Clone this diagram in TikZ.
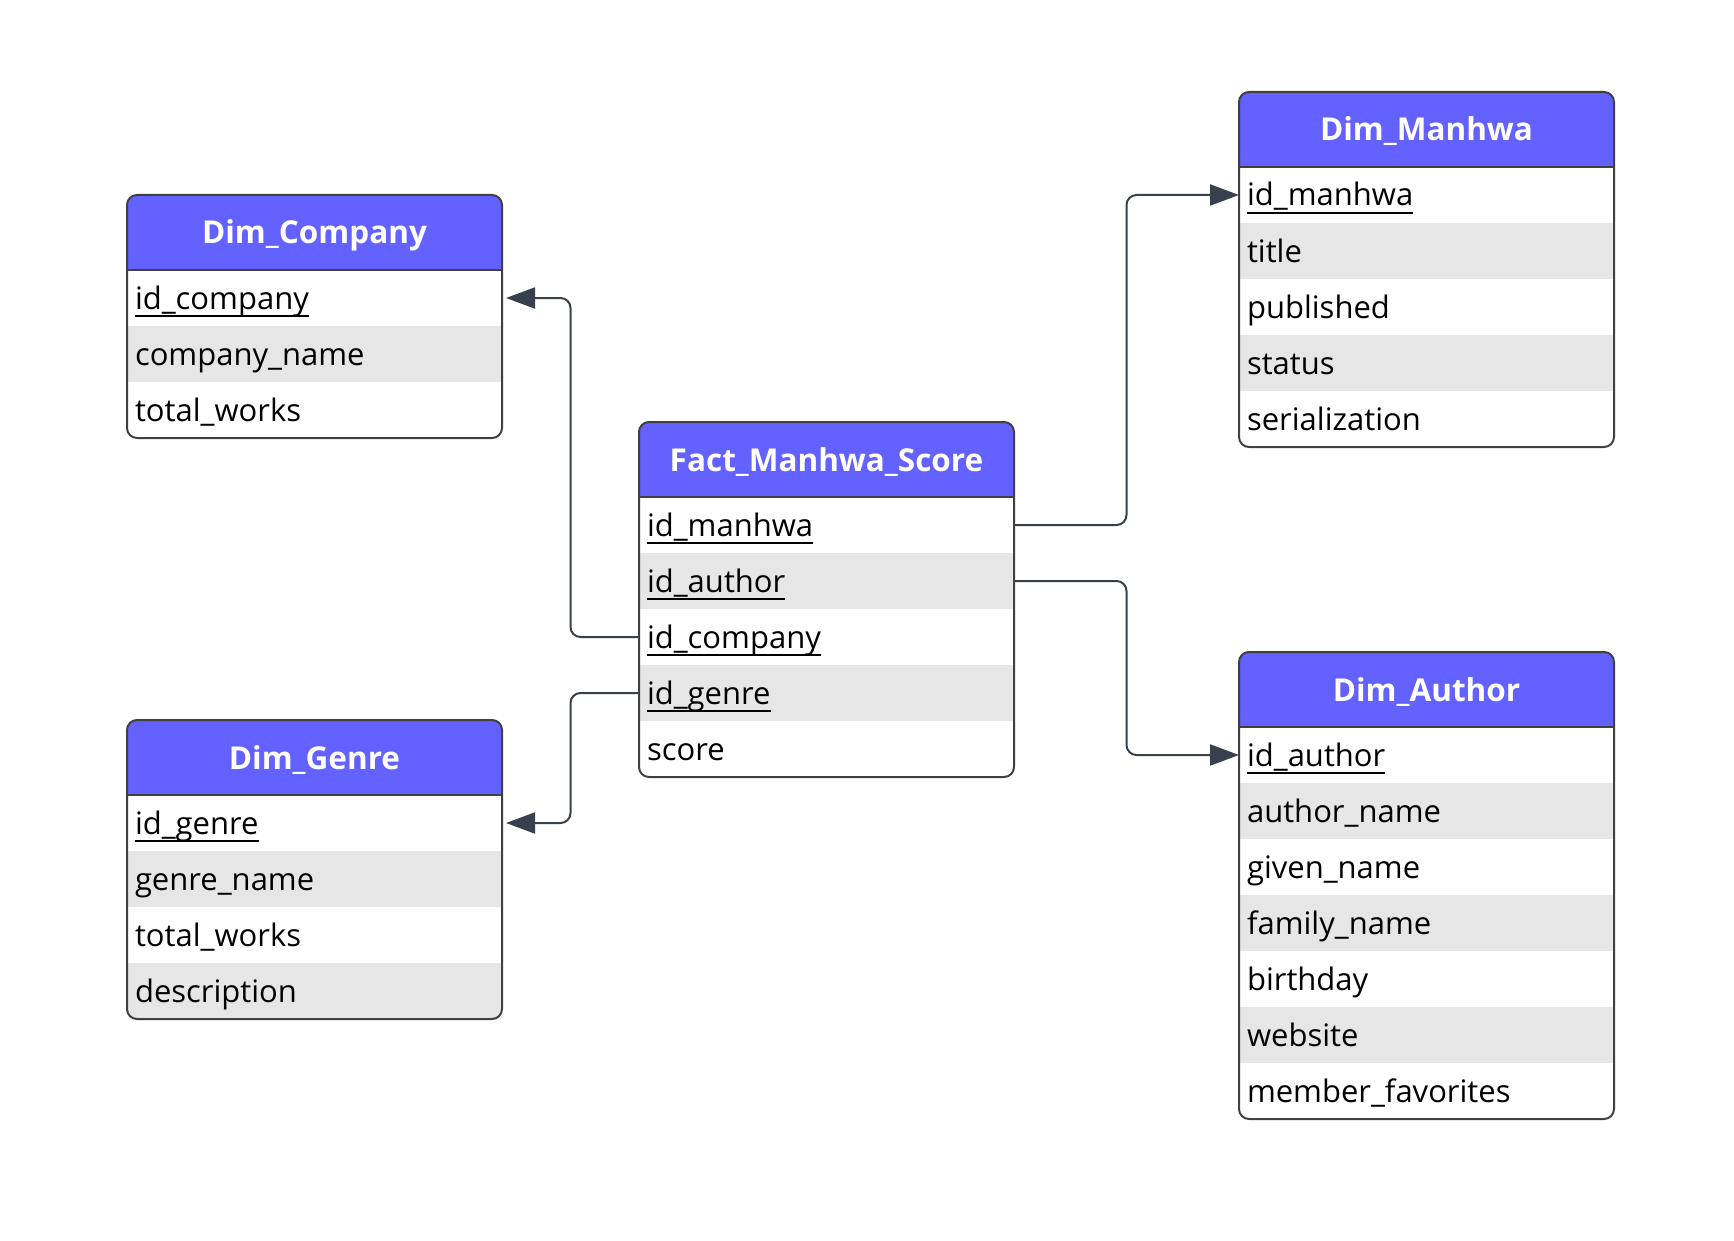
\documentclass[tikz,border=0pt]{standalone}
\usepackage{fontspec}
\setmainfont{Open Sans}
\usetikzlibrary{arrows.meta}
\usetikzlibrary{calc}
\usetikzlibrary{positioning}
\definecolor{kopfblau}{RGB}{99,97,255}
\definecolor{zeilegrau}{RGB}{230,230,230}
\definecolor{randgrau}{RGB}{64,64,64}
\definecolor{pfeilgrau}{RGB}{56,63,77}
% Schluesselfeld unterstrichen
\newcommand{\pk}[1]{\setbox0\hbox{#1}\rlap{\rule[-8.2pt]{\wd0}{2.4pt}}\box0}
% Rahmen um eine Tabelle (Kopf, letzte Zeile)
\newcommand{\tabrahmen}[2]{%
  \fill[white,even odd rule] (#1.north west) rectangle (#2.south east)
     [rounded corners=10pt] (#1.north west) rectangle (#2.south east);
  \draw[rahmen] (#1.north west) rectangle (#2.south east);
  \draw[draw=randgrau,line width=2pt] (#1.south west) -- (#1.south east);}
\tikzset{
    %Define style for table heads
    kopf/.style={
           rectangle,
           fill=kopfblau, text=white,
           font=\fontsize{31.5pt}{36pt}\selectfont\bfseries,
           minimum width=375pt, minimum height=75pt,
           text width=359pt, align=center,
           inner xsep=8pt, inner ysep=0pt,
           text height=31pt, text depth=8pt,
           outer sep=0pt},
    %Define style for table rows
    feld/.style={
           rectangle,
           fill=white, text=black,
           font=\fontsize{31pt}{36pt}\selectfont,
           minimum width=375pt, minimum height=56pt,
           text width=359pt, align=left,
           inner xsep=8pt, inner ysep=0pt,
           text height=30pt, text depth=8pt,
           outer sep=0pt},
    feldgrau/.style={feld, fill=zeilegrau},
    rahmen/.style={draw=randgrau, line width=2pt, rounded corners=10pt},
    % Define arrow style
    rel/.style={
           draw=pfeilgrau,
           line width=2pt,
           rounded corners=10pt,
           -{Triangle[length=29pt,width=21pt]}},
}
\begin{document}
\begin{tikzpicture}[x=1pt,y=-1pt]
\fill[white] (0,0) rectangle (1734,1241);
\useasboundingbox (0,0) rectangle (1734,1241);

% Faktentabelle Mitte
\node[kopf, anchor=north west] (Fact) at (639,422) {Fact\_Manhwa\_Score};
\node[feld, below=0pt of Fact] (factManhwa) {\pk{id\_manhwa}};
\node[feldgrau, below=0pt of factManhwa] (factAuthor) {\pk{id\_author}};
\node[feld, below=0pt of factAuthor] (factCompany) {\pk{id\_company}};
\node[feldgrau, below=0pt of factCompany] (factGenre) {\pk{id\_genre}};
\node[feld, below=0pt of factGenre] (factScore) {score};
\tabrahmen{Fact}{factScore}

% Oben links
\node[kopf, anchor=north west] (Company) at (127,195) {Dim\_Company};
\node[feld, below=0pt of Company] (companyId) {\pk{id\_company}};
\node[feldgrau, below=0pt of companyId] (companyName) {company\_name};
\node[feld, below=0pt of companyName] (companyWorks) {total\_works};
\tabrahmen{Company}{companyWorks}

% Unten links
\node[kopf, anchor=north west] (Genre) at (127,720) {Dim\_Genre};
\node[feld, below=0pt of Genre] (genreId) {\pk{id\_genre}};
\node[feldgrau, below=0pt of genreId] (genreName) {genre\_name};
\node[feld, below=0pt of genreName] (genreWorks) {total\_works};
\node[feldgrau, below=0pt of genreWorks] (genreDesc) {description};
\tabrahmen{Genre}{genreDesc}

% Oben rechts
\node[kopf, anchor=north west] (Manhwa) at (1239,92) {Dim\_Manhwa};
\node[feld, below=0pt of Manhwa] (manhwaId) {\pk{id\_manhwa}};
\node[feldgrau, below=0pt of manhwaId] (manhwaTitle) {title};
\node[feld, below=0pt of manhwaTitle] (manhwaPub) {published};
\node[feldgrau, below=0pt of manhwaPub] (manhwaStatus) {status};
\node[feld, below=0pt of manhwaStatus] (manhwaSerial) {serialization};
\tabrahmen{Manhwa}{manhwaSerial}

% Unten rechts
\node[kopf, anchor=north west] (Author) at (1239,652) {Dim\_Author};
\node[feld, below=0pt of Author] (authorId) {\pk{id\_author}};
\node[feldgrau, below=0pt of authorId] (authorName) {author\_name};
\node[feld, below=0pt of authorName] (authorGiven) {given\_name};
\node[feldgrau, below=0pt of authorGiven] (authorFamily) {family\_name};
\node[feld, below=0pt of authorFamily] (authorBirth) {birthday};
\node[feldgrau, below=0pt of authorBirth] (authorWeb) {website};
\node[feld, below=0pt of authorWeb] (authorFav) {member\_favorites};
\tabrahmen{Author}{authorFav}

% Pfeile
\draw[rel, shorten >=4pt] (factCompany.west) -| ($(factCompany.west)!.5!(companyId.east)$) |- (companyId.east);
\draw[rel, shorten >=4pt] (factGenre.west) -| ($(factGenre.west)!.5!(genreId.east)$) |- (genreId.east);
\draw[rel] (factManhwa.east) -| ($(factManhwa.east)!.5!(manhwaId.west)$) |- (manhwaId.west);
\draw[rel] (factAuthor.east) -| ($(factAuthor.east)!.5!(authorId.west)$) |- (authorId.west);
\end{tikzpicture}
\end{document}
